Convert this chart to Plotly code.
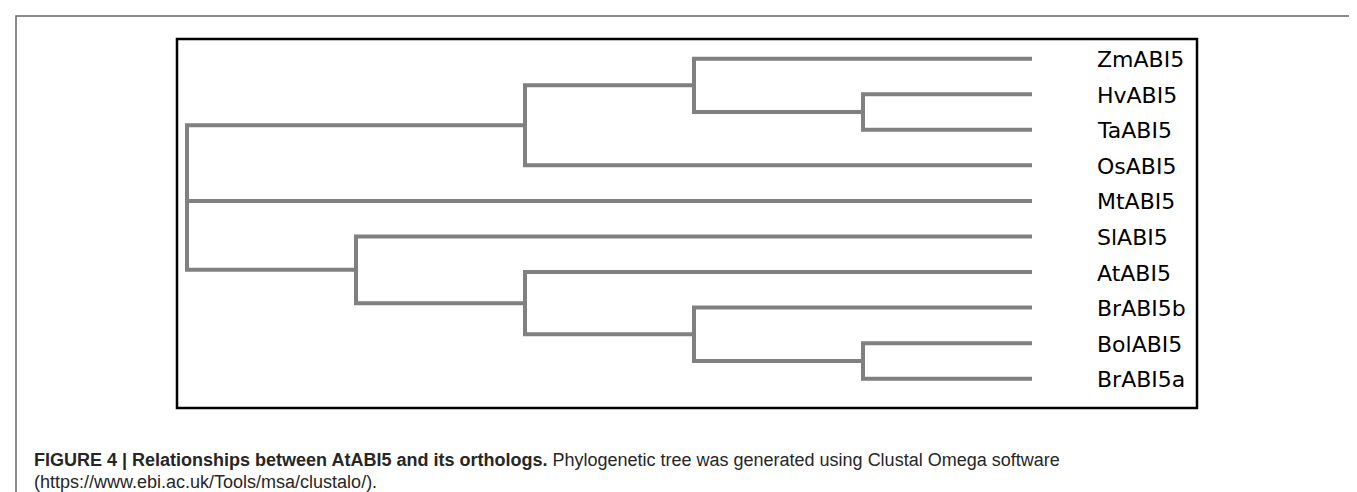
import plotly.graph_objects as go

# ---------------- data ----------------
leaves = ["ZmABI5", "HvABI5", "TaABI5", "OsABI5", "MtABI5",
          "SlABI5", "AtABI5", "BrABI5b", "BolABI5", "BrABI5a"]
leaf_depth = 5

internal_names = ["root", "monocots", "Zm_HvTa", "HvTa",
                  "dicots", "At_Br", "Br5b_BolBr5a", "Bol_Br5a"]
internal_depth = [0, 2, 3, 4, 1, 2, 3, 4]
internal_children = [
    ["monocots", "MtABI5", "dicots"],
    ["Zm_HvTa", "OsABI5"],
    ["ZmABI5", "HvTa"],
    ["HvABI5", "TaABI5"],
    ["SlABI5", "At_Br"],
    ["AtABI5", "Br5b_BolBr5a"],
    ["BrABI5b", "Bol_Br5a"],
    ["BolABI5", "BrABI5a"],
]

caption_bold = "FIGURE 4 | Relationships between AtABI5 and its orthologs."
caption_rest = " Phylogenetic tree was generated using Clustal Omega software"
caption_line2 = "(https://www.ebi.ac.uk/Tools/msa/clustalo/)."

# ---------------- tree geometry ----------------
W, H = 1357, 492
pos = {}
for i, name in enumerate(leaves):
    pos[name] = (leaf_depth, i)

depth_of = dict(zip(internal_names, internal_depth))
children_of = dict(zip(internal_names, internal_children))


def place(name):
    if name in pos:
        return pos[name]
    ys = [place(c)[1] for c in children_of[name]]
    pos[name] = (depth_of[name], (min(ys) + max(ys)) / 2.0)
    return pos[name]


place("root")

xs, ys = [], []
for name in internal_names:
    d, _ = pos[name]
    ch = children_of[name]
    first, last = pos[ch[0]], pos[ch[-1]]
    xs += [first[0], d, d, last[0], None]
    ys += [first[1], first[1], last[1], last[1], None]
    for c in ch[1:-1]:
        cx, cy = pos[c]
        xs += [d, cx, None]
        ys += [cy, cy, None]

fig = go.Figure()
fig.add_trace(go.Scatter(
    x=xs, y=ys, mode="lines",
    line=dict(color="#808080", width=4),
    hoverinfo="skip", showlegend=False,
))

# axis ranges chosen so depth 0 -> 179px, depth 5 -> 1024px
px_per_unit_x = (1024 - 179) / 5.0
x0_px = 179
xr = [(0 - x0_px) / px_per_unit_x, (W - x0_px) / px_per_unit_x]
y0_px = 50.7
px_per_unit_y = (370.7 - 50.7) / 9.0
yr = [(H - y0_px) / px_per_unit_y, (0 - y0_px) / px_per_unit_y]

for name in leaves:
    lx, ly = pos[name]
    fig.add_annotation(
        x=lx, y=ly, xref="x", yref="y", text=name, showarrow=False,
        xanchor="left", yanchor="middle", xshift=63, yshift=-1,
        font=dict(family="DejaVu Sans", size=22, color="#000000"),
    )

# inner box
fig.add_shape(type="rect", xref="paper", yref="paper",
              x0=169 / W, x1=1189 / W, y0=1 - 400 / H, y1=1 - 31 / H,
              line=dict(color="#000000", width=2.5))
# outer frame (top, left, right)
fig.add_shape(type="path", xref="paper", yref="paper",
              path=f"M {8/W} 0 L {8/W} {1-8/H} L {1356/W} {1-8/H} L {1356/W} 0",
              line=dict(color="#666666", width=1.5))

cap_font = "Liberation Sans, Arial, sans-serif"
fig.add_annotation(
    x=24 / W, y=1 - 452 / H, xref="paper", yref="paper",
    xanchor="left", yanchor="middle", showarrow=False, align="left",
    text=f"<b>{caption_bold}</b>{caption_rest}",
    font=dict(family=cap_font, size=18, color="#262626"),
)
fig.add_annotation(
    x=24 / W, y=1 - 474 / H, xref="paper", yref="paper",
    xanchor="left", yanchor="middle", showarrow=False, align="left",
    text=caption_line2,
    font=dict(family=cap_font, size=18, color="#262626"),
)

fig.update_layout(
    width=W, height=H,
    margin=dict(l=0, r=0, t=0, b=0),
    paper_bgcolor="white", plot_bgcolor="white",
    xaxis=dict(range=xr, visible=False, fixedrange=True),
    yaxis=dict(range=yr, visible=False, fixedrange=True),
)

fig.write_html("out.html")
